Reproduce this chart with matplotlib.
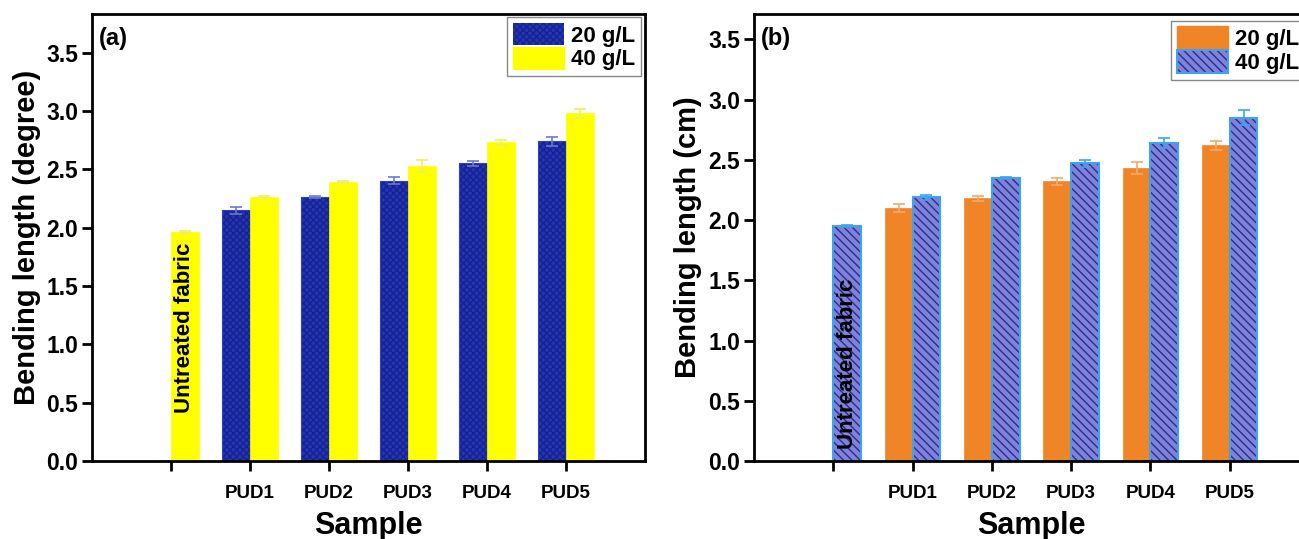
import numpy as np
import matplotlib
matplotlib.use("Agg")
import matplotlib.pyplot as plt
from matplotlib.patches import Patch

plt.rcParams['font.family'] = ['Liberation Sans', 'DejaVu Sans']
plt.rcParams['font.weight'] = 'bold'
plt.rcParams['axes.labelweight'] = 'bold'
plt.rcParams['hatch.linewidth'] = 1.0

# data
samples = ["", "PUD1", "PUD2", "PUD3", "PUD4", "PUD5"]
untreated_a = 1.96
untreated_a_err = 0.01
a_20 = [2.15, 2.26, 2.40, 2.55, 2.74]
a_20_err = [0.03, 0.01, 0.03, 0.02, 0.04]
a_40 = [2.26, 2.39, 2.53, 2.73, 2.98]
a_40_err = [0.01, 0.01, 0.05, 0.02, 0.04]

untreated_b = 1.95
untreated_b_err = 0.01
b_20 = [2.10, 2.18, 2.32, 2.43, 2.62]
b_20_err = [0.03, 0.02, 0.03, 0.05, 0.04]
b_40 = [2.19, 2.35, 2.47, 2.64, 2.85]
b_40_err = [0.02, 0.01, 0.03, 0.04, 0.06]

width = 0.35
pos = np.arange(1, 7)
pud_pos = pos[1:]


def style_axes(ax, ylabel, ymax, letter):
    ax.set_xlim(0, 7)
    ax.set_ylim(0, ymax)
    ax.set_xticks(pos)
    ax.set_xticklabels(samples, fontsize=13.5)
    ax.set_yticks(np.arange(0, 3.51, 0.5))
    ax.set_yticklabels(["%.1f" % v for v in np.arange(0, 3.51, 0.5)], fontsize=16.5)
    ax.tick_params(axis='x', direction='out', length=7, width=2, pad=10)
    ax.tick_params(axis='y', direction='out', length=7, width=2, pad=3)
    for s in ax.spines.values():
        s.set_linewidth(2)
    ax.set_ylabel(ylabel, fontsize=21, labelpad=4)
    ax.set_xlabel("Sample", fontsize=22, labelpad=7)
    ax.text(0.012, 0.945, letter, transform=ax.transAxes, fontsize=17,
            ha='left', va='center')


fig = plt.figure(figsize=(12.99, 5.39), dpi=100)
ax1 = fig.add_axes([0.0708, 0.1447, 0.4257, 0.8293])
ax2 = fig.add_axes([0.5804, 0.1447, 0.4273, 0.8293])

# panel (a)
blue_a = '#2234b8'
yellow = '#ffff00'
ax1.bar(pud_pos - width / 2, a_20, width, align='center', color=blue_a,
        edgecolor='#16228a', hatch='xxxxx', linewidth=0)
ax1.bar(pud_pos - width / 2, a_20, width, fill=False, edgecolor='#3040c0', linewidth=0.8)
ax1.errorbar(pud_pos - width / 2, a_20, yerr=a_20_err, fmt='none', ecolor='#6a78d0',
             elinewidth=1.2, capsize=4, capthick=1.2)
ax1.bar(np.append(pos[0], pud_pos) + width / 2, [untreated_a] + a_40, width,
        color=yellow, edgecolor=yellow, linewidth=0.5)
ax1.errorbar(np.append(pos[0], pud_pos) + width / 2, [untreated_a] + a_40,
             yerr=[untreated_a_err] + a_40_err, fmt='none', ecolor='#f0f060',
             elinewidth=1.2, capsize=4, capthick=1.2)
ax1.text(pos[0] + width / 2, 0.41, "Untreated fabric", rotation=90, fontsize=16,
         ha='center', va='bottom')
style_axes(ax1, "Bending length (degree)", 3.83, "(a)")
h_a = [Patch(facecolor=blue_a, edgecolor='#16228a', hatch='xxxxx', linewidth=0),
       Patch(facecolor=yellow, edgecolor=yellow)]
ax1.legend(h_a, ["20 g/L", "40 g/L"], loc='upper right', bbox_to_anchor=(0.993, 0.993),
           borderaxespad=0, fontsize=16, handlelength=2.3, handleheight=1.2,
           labelspacing=0.0, handletextpad=0.35, borderpad=0.25, fancybox=False,
           edgecolor='#888888', framealpha=1)

# panel (b)
orange = '#f08528'
lav = '#7f82dc'
navy = '#2b2f80'
edge_b = '#3fa2ec'
ax2.bar(pud_pos - width / 2, b_20, width, color=orange, edgecolor=orange, linewidth=0.5)
ax2.errorbar(pud_pos - width / 2, b_20, yerr=b_20_err, fmt='none', ecolor='#f5a868',
             elinewidth=1.2, capsize=4, capthick=1.2)
ax2.bar(np.append(pos[0], pud_pos) + width / 2, [untreated_b] + b_40, width,
        color=lav, edgecolor=navy, hatch='\\\\\\\\', linewidth=0)
ax2.bar(np.append(pos[0], pud_pos) + width / 2, [untreated_b] + b_40, width,
        fill=False, edgecolor=edge_b, linewidth=1.5)
ax2.errorbar(np.append(pos[0], pud_pos) + width / 2, [untreated_b] + b_40,
             yerr=[untreated_b_err] + b_40_err, fmt='none', ecolor=edge_b,
             elinewidth=1.2, capsize=4, capthick=1.2)
ax2.text(pos[0] + width / 2, 0.1, "Untreated fabric", rotation=90, fontsize=16,
         ha='center', va='bottom')
style_axes(ax2, "Bending length (cm)", 3.71, "(b)")
h_b = [Patch(facecolor=orange, edgecolor=orange),
       (Patch(facecolor=lav, edgecolor=navy, hatch='\\\\\\\\', linewidth=0),
        Patch(fill=False, edgecolor=edge_b, linewidth=1.5))]
ax2.legend(h_b, ["20 g/L", "40 g/L"], loc='upper right', bbox_to_anchor=(0.993, 0.985),
           borderaxespad=0, fontsize=16, handlelength=2.3, handleheight=1.2,
           labelspacing=0.0, handletextpad=0.35, borderpad=0.25, fancybox=False,
           edgecolor='#888888', framealpha=1)

fig.savefig("out.png", dpi=100)
